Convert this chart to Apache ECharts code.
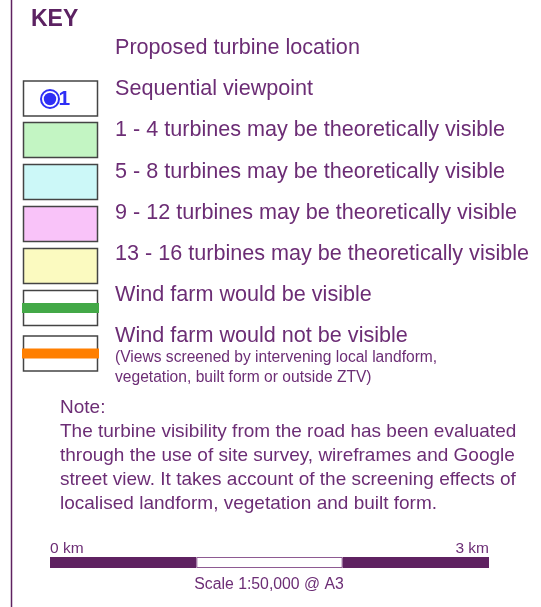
<!DOCTYPE html>
<html>
<head>
<meta charset="utf-8">
<script src="https://cdn.jsdelivr.net/npm/echarts@6/dist/echarts.min.js"></script>
<style>
  html, body { margin: 0; padding: 0; background: #fff; }
  #chart { width: 541px; height: 607px; }
</style>
</head>
<body>
<div id="chart"></div>
<script>
const keyTitle = 'KEY';
const keyLabels = [
  'Proposed turbine location',
  'Sequential viewpoint',
  '1 - 4 turbines may be theoretically visible',
  '5 - 8 turbines may be theoretically visible',
  '9 - 12 turbines may be theoretically visible',
  '13 - 16 turbines may be theoretically visible',
  'Wind farm would be visible',
  'Wind farm would not be visible'
];
// swatch kind per row: none, viewpoint, fill, stripe
const keyKinds = ['none', 'viewpoint', 'fill', 'fill', 'fill', 'fill', 'stripe', 'stripe'];
const keyColors = [null, '#2f2ff5', '#c3f5c3', '#ccf8f8', '#f9c3f9', '#fbfac0', '#43a847', '#ff7f00'];
const viewpointNo = '1';
const subNote = ['(Views screened by intervening local landform,', 'vegetation, built form or outside ZTV)'];
const noteTitle = 'Note:';
const noteLines = [
  'The turbine visibility from the road has been evaluated',
  'through the use of site survey, wireframes and Google',
  'street view. It takes account of the screening effects of',
  'localised landform, vegetation and built form.'
];
const scaleSegments = [1, 1, 1];
const scaleSegColors = ['#5f2261', '#ffffff', '#5f2261'];
const scaleMax = 3;
const scaleCaption = 'Scale 1:50,000 @ A3';

const purple = '#6c2d75';
const font = '"Liberation Sans", Arial, sans-serif';

const rowCenters = [48, 89.5, 130.5, 172, 213, 254.5, 295.5, 336];
const boxTops = [null, 81, 122.5, 164.5, 206.5, 248.5, 290.5, 336];

const graphics = [];
graphics.push({
  type: 'line', shape: { x1: 11.5, y1: 0, x2: 11.5, y2: 607 },
  style: { stroke: '#5f2261', lineWidth: 1.5 }
});
graphics.push({
  type: 'text', x: 31, y: 19.5,
  style: { text: keyTitle, font: 'bold 23px ' + font, fill: '#5c2262', verticalAlign: 'middle' }
});

keyLabels.forEach((label, i) => {
  graphics.push({
    type: 'text', x: 115, y: rowCenters[i],
    style: { text: label, font: '21.6px ' + font, fill: purple, verticalAlign: 'middle' }
  });
  const kind = keyKinds[i];
  if (kind === 'none') return;
  const top = boxTops[i];
  const fill = kind === 'fill' ? keyColors[i] : '#ffffff';
  graphics.push({
    type: 'rect', shape: { x: 23.5, y: top, width: 74, height: 35 },
    style: { fill: fill, stroke: '#444444', lineWidth: 1.5 }
  });
  if (kind === 'stripe') {
    graphics.push({
      type: 'rect', shape: { x: 22, y: top + 12.5, width: 77, height: 10 },
      style: { fill: keyColors[i] }
    });
  }
  if (kind === 'viewpoint') {
    graphics.push({
      type: 'circle', shape: { cx: 50, cy: top + 18, r: 9 },
      style: { fill: '#ffffff', stroke: keyColors[i], lineWidth: 2 }
    });
    graphics.push({
      type: 'circle', shape: { cx: 50, cy: top + 18, r: 6.2 },
      style: { fill: keyColors[i] }
    });
    graphics.push({
      type: 'text', x: 58.5, y: top + 18.5,
      style: { text: viewpointNo, font: 'bold 21px ' + font, fill: keyColors[i], verticalAlign: 'middle' }
    });
  }
});

subNote.forEach((t, i) => {
  graphics.push({
    type: 'text', x: 115, y: 358 + i * 20,
    style: { text: t, font: '15.6px ' + font, fill: purple, verticalAlign: 'middle' }
  });
});

graphics.push({
  type: 'text', x: 60, y: 408,
  style: { text: noteTitle, font: '19px ' + font, fill: purple, verticalAlign: 'middle' }
});
noteLines.forEach((t, i) => {
  graphics.push({
    type: 'text', x: 60, y: 431.5 + i * 24,
    style: { text: t, font: '19px ' + font, fill: purple, verticalAlign: 'middle' }
  });
});

graphics.push({
  type: 'text', x: 269, y: 585,
  style: { text: scaleCaption, font: '15.8px ' + font, fill: purple, align: 'center', verticalAlign: 'middle' }
});

const chart = echarts.init(document.getElementById('chart'));
chart.setOption({
  animation: false,
  grid: { left: 50, right: 52, top: 557, height: 11 },
  xAxis: {
    type: 'value', position: 'top', min: 0, max: scaleMax, interval: scaleMax,
    axisLine: { show: false }, axisTick: { show: false }, splitLine: { show: false },
    axisLabel: {
      formatter: '{value} km', color: purple, fontSize: 15.5, fontFamily: font, margin: 0,
      alignMinLabel: 'left', alignMaxLabel: 'right'
    }
  },
  yAxis: { type: 'category', data: ['scale'], show: false },
  series: scaleSegments.map((v, i) => ({
    type: 'bar', stack: 'scale', data: [v], barWidth: '100%',
    itemStyle: {
      color: scaleSegColors[i],
      borderColor: i === 1 ? '#8e5a92' : scaleSegColors[i],
      borderWidth: i === 1 ? 1 : 0
    }
  })),
  graphic: graphics
});
</script>
</body>
</html>
